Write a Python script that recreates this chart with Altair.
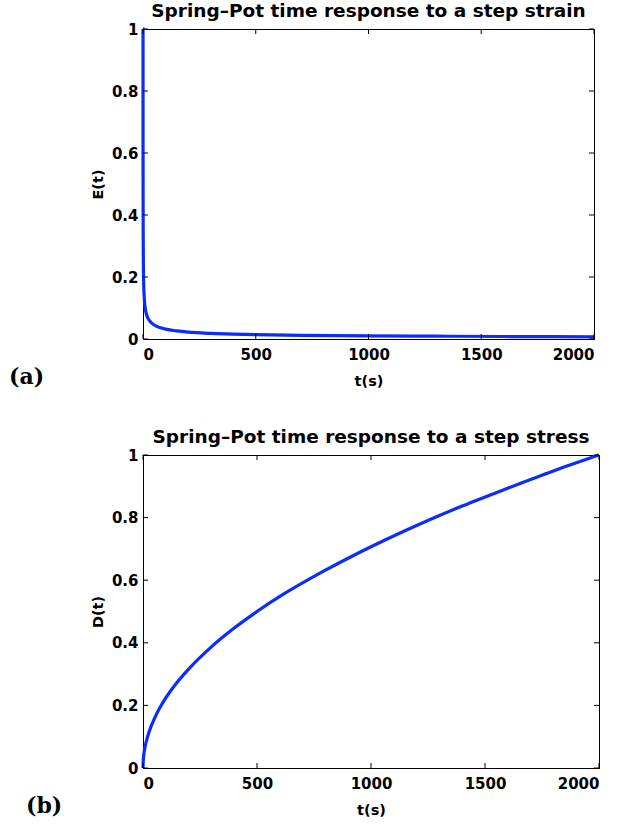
import altair as alt
import pandas as pd

# ---- data ----
t_E = [0, 0.1, 0.25, 0.5, 1, 2, 3, 5, 8, 12, 20, 30, 50, 75, 100, 150, 200, 300,
       400, 500, 700, 1000, 1300, 1600, 2000]
E_vals = [1.0, 1.0, 0.63, 0.45, 0.32, 0.22, 0.18, 0.14, 0.11, 0.09, 0.07, 0.058,
          0.045, 0.037, 0.032, 0.026, 0.022, 0.018, 0.016, 0.014, 0.012, 0.010,
          0.009, 0.008, 0.007]

t_D = [0, 1, 3, 6, 10, 20, 35, 50, 75, 100, 150, 200, 300, 400, 500, 600, 800,
       1000, 1200, 1400, 1600, 1800, 2000]
D_vals = [0, 0.022, 0.039, 0.055, 0.071, 0.10, 0.132, 0.158, 0.194, 0.224, 0.274,
          0.316, 0.387, 0.447, 0.50, 0.548, 0.632, 0.707, 0.775, 0.837, 0.894,
          0.949, 1.0]

x_ticks = [0, 500, 1000, 1500, 2000]
y_ticks = [0, 0.2, 0.4, 0.6, 0.8, 1]
titles = ["Spring\u2013Pot time response to a step strain",
          "Spring\u2013Pot time response to a step stress"]
y_titles = ["E(t)", "D(t)"]
x_title = "t(s)"
panel_labels = ["(a)", "(b)"]

BLUE = "#0a2cff"
TICK = 5
AX = dict(labelFont="DejaVu Sans", labelFontSize=15, labelFontWeight="bold",
          labelColor="black", titleFont="DejaVu Sans", titleFontSize=14.5,
          titleFontWeight="bold", titleColor="black", grid=False, ticks=False,
          domain=True, domainColor="black")


def panel(t, v, W, H, title, ytitle, label, label_x):
    df = pd.DataFrame({"t": t, "v": v})
    xs = alt.Scale(domain=[0, 2000], nice=False, zero=False)
    ys = alt.Scale(domain=[0, 1], nice=False, zero=False)
    xax = alt.Axis(values=x_ticks, format="d", title=x_title,
                   labelPadding=8, titlePadding=12, **AX)
    yax = alt.Axis(values=y_ticks, format="~g", title=ytitle,
                   labelPadding=5, titlePadding=6, **AX)
    X = alt.X("t:Q", scale=xs, axis=xax)
    Y = alt.Y("v:Q", scale=ys, axis=yax)
    line = alt.Chart(df).mark_line(color=BLUE, strokeWidth=3.2,
                                   interpolate="monotone").encode(x=X, y=Y)
    xt = pd.DataFrame({"t": x_ticks})
    yt = pd.DataFrame({"v": y_ticks})
    bt = alt.Chart(xt).mark_rule(color="black", strokeWidth=1).encode(
        x=X, y=alt.value(H), y2=alt.value(H - TICK))
    tt = alt.Chart(xt).mark_rule(color="black", strokeWidth=1).encode(
        x=X, y=alt.value(0), y2=alt.value(TICK))
    lt = alt.Chart(yt).mark_rule(color="black", strokeWidth=1).encode(
        y=Y, x=alt.value(0), x2=alt.value(TICK))
    rt = alt.Chart(yt).mark_rule(color="black", strokeWidth=1).encode(
        y=Y, x=alt.value(W - TICK), x2=alt.value(W))
    lab = alt.Chart(pd.DataFrame({"label": [label]})).mark_text(
        align="left", baseline="middle", font="DejaVu Serif",
        fontWeight="bold", fontSize=22, color="black").encode(
        text="label:N", x=alt.value(label_x), y=alt.value(H + 38))
    return alt.layer(line, bt, tt, lt, rt, lab).properties(
        width=W, height=H,
        title=alt.TitleParams(title, font="DejaVu Sans", fontSize=18.5,
                              fontWeight="bold", color="black",
                              anchor="middle", baseline="alphabetic",
                              offset=-13))


top = panel(t_E, E_vals, 451, 310, titles[0], y_titles[0], panel_labels[0], -134)
bot = panel(t_D, D_vals, 456, 313, titles[1], y_titles[1], panel_labels[1], -117)

chart = alt.vconcat(top, bot, spacing=116, bounds="flush").properties(
    padding={"left": 8, "top": 1, "right": 4, "bottom": 4},
    background="white",
).configure_view(
    stroke="black", strokeWidth=1
)

chart.save("out.html", embed_options={"renderer": "svg", "actions": False})
